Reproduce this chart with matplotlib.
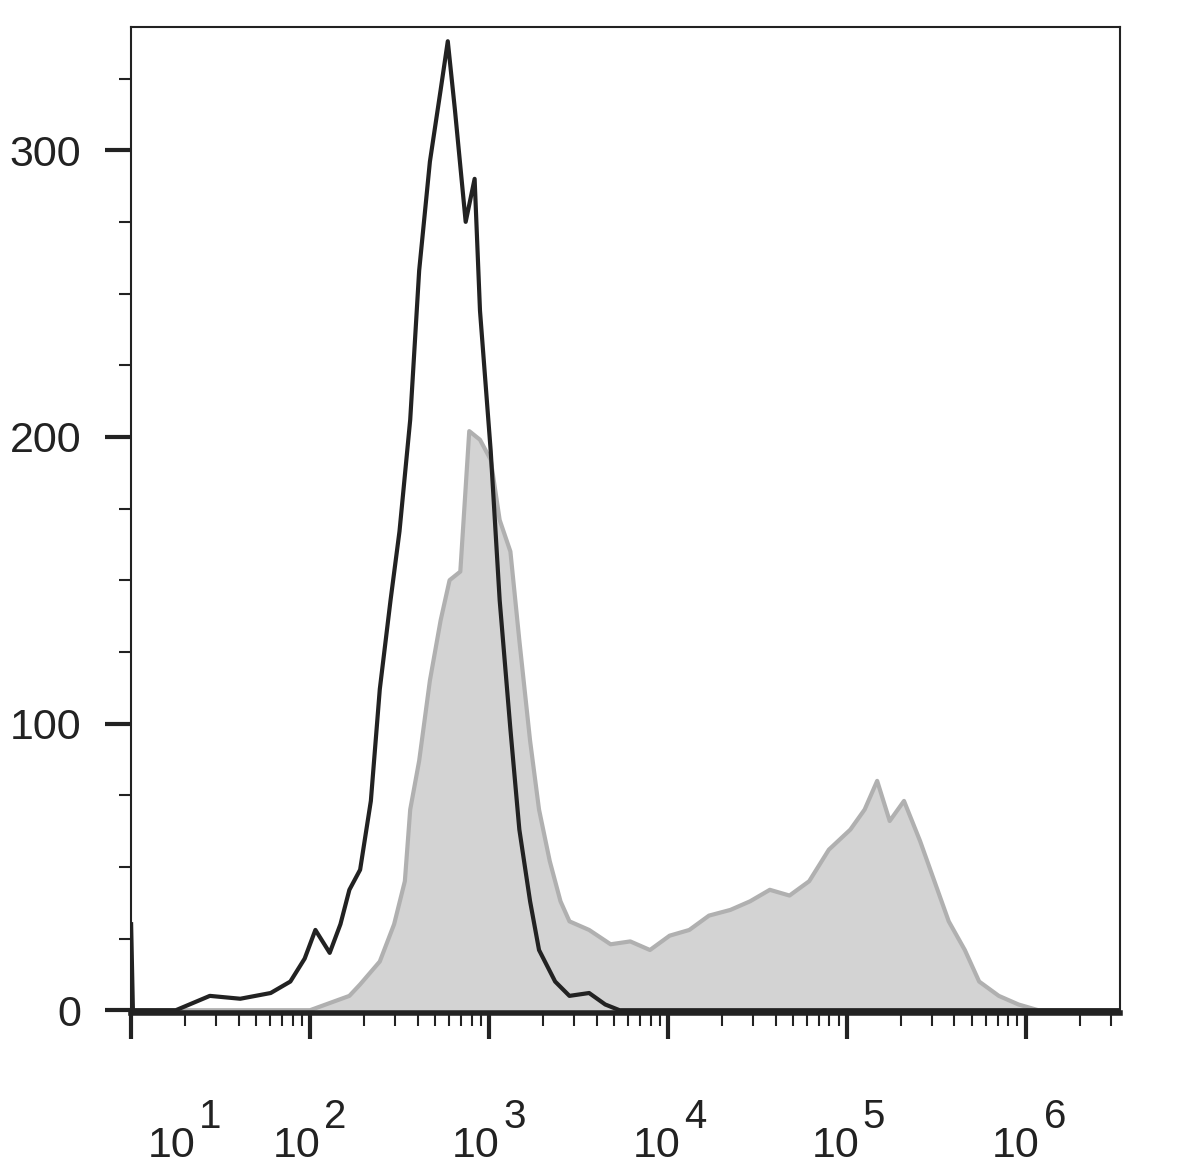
import numpy as np
import matplotlib
matplotlib.use('Agg')
import matplotlib.pyplot as plt
from matplotlib.ticker import FixedLocator

plt.rcParams['font.family'] = ['Liberation Sans', 'DejaVu Sans']

# log10 intensity vs. event count
black_x = [1.00, 1.01, 1.25, 1.44, 1.61, 1.78, 1.89, 1.97, 2.03, 2.11, 2.17, 2.22, 2.28, 2.34,
           2.39, 2.45, 2.50, 2.56, 2.61, 2.67, 2.73, 2.77, 2.81, 2.87, 2.92, 2.95, 3.01, 3.06,
           3.12, 3.17, 3.23, 3.28, 3.37, 3.45, 3.56, 3.65, 3.73, 6.53]
black_y = [30, 0, 0, 5, 4, 6, 10, 18, 28, 20, 30, 42, 49, 73,
           112, 143, 167, 206, 258, 296, 321, 338, 314, 275, 290, 244, 195, 143,
           98, 63, 38, 21, 10, 5, 6, 2, 0, 0]

gray_x = [1.0, 2.00, 2.22, 2.28, 2.39, 2.47, 2.53, 2.56, 2.61, 2.67, 2.73, 2.78, 2.84, 2.89, 2.95,
          3.01, 3.06, 3.12, 3.17, 3.23, 3.28, 3.34, 3.40, 3.45, 3.56, 3.68, 3.79, 3.90,
          4.01, 4.12, 4.23, 4.35, 4.46, 4.57, 4.68, 4.79, 4.90, 5.02, 5.10, 5.17, 5.24,
          5.32, 5.41, 5.49, 5.57, 5.66, 5.74, 5.85, 5.96, 6.07, 6.53]
gray_y = [0, 0, 5, 9, 17, 30, 45, 70, 87, 115, 136, 150, 153, 202, 199,
          192, 171, 160, 129, 94, 70, 52, 38, 31, 28, 23, 24, 21,
          26, 28, 33, 35, 38, 42, 40, 45, 56, 63, 70, 80, 66,
          73, 59, 45, 31, 21, 10, 5, 2, 0, 0]

decades = [1, 2, 3, 4, 5, 6]
exponents = ['1', '2', '3', '4', '5', '6']
label_pos = [1.33, 2.03, 3.03, 4.04, 5.04, 6.05]
y_major = [0, 100, 200, 300]

fig = plt.figure(figsize=(11.92, 11.70), dpi=100)
ax = fig.add_axes([0.110, 0.134, 0.830, 0.843])

ax.fill_between(gray_x, gray_y, 0, color='#d3d3d3', lw=0)
ax.plot(gray_x, gray_y, color='#b0b0b0', lw=3)
ax.plot(black_x, black_y, color='#222222', lw=3)

ax.set_xlim(1.0, 6.53)
ax.set_ylim(-1.05, 343)

minor = [np.log10(k) + d for d in range(1, 7) for k in range(2, 10) if np.log10(k) + d < 6.53]
ax.xaxis.set_major_locator(FixedLocator(decades))
ax.xaxis.set_minor_locator(FixedLocator(minor))
ax.set_xticklabels([])
ax.tick_params(axis='x', which='major', length=19, width=3, color='#222222', direction='out')
ax.tick_params(axis='x', which='minor', length=9, width=1.5, color='#222222', direction='out')
for p, e in zip(label_pos, exponents):
    ax.text(p + 0.03, -0.135, '10', transform=ax.get_xaxis_transform(), ha='right', va='center',
            fontsize=31, color='#222222')
    ax.text(p + 0.05, -0.105, e, transform=ax.get_xaxis_transform(), ha='left', va='center',
            fontsize=29, color='#222222')

ax.yaxis.set_major_locator(FixedLocator(y_major))
ax.yaxis.set_minor_locator(FixedLocator(list(range(25, 343, 25))))
ax.set_yticklabels([str(v) for v in y_major], fontsize=31, color='#222222')
ax.tick_params(axis='y', which='major', length=19, width=3, color='#222222', pad=17)
ax.tick_params(axis='y', which='minor', length=9, width=1.5, color='#222222')

for s in ['top', 'right', 'left']:
    ax.spines[s].set_linewidth(1.5)
    ax.spines[s].set_color('#222222')
ax.spines['bottom'].set_linewidth(4)
ax.spines['bottom'].set_color('#222222')

fig.savefig('out.png', dpi=100)
